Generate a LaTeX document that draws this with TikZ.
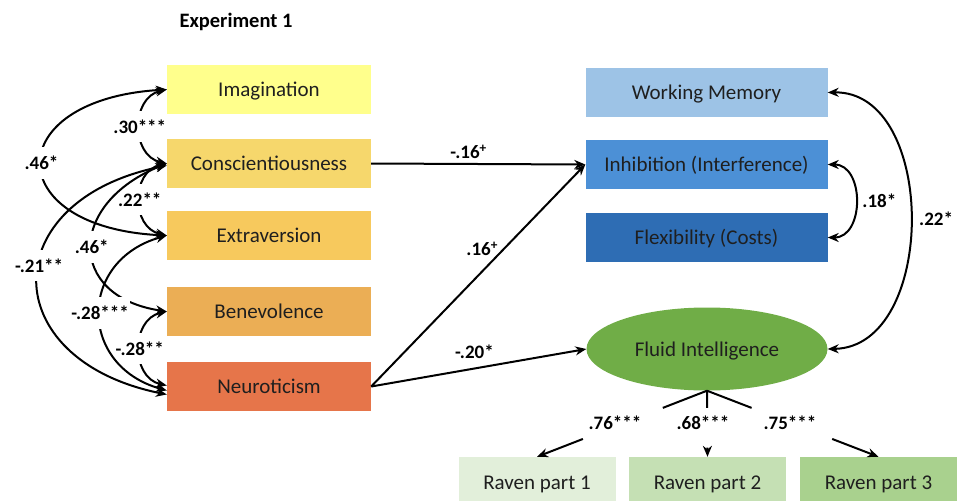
\documentclass[tikz,border=0pt]{standalone}
\usepackage{fontspec}
\setmainfont{Carlito}
\usetikzlibrary{arrows.meta,shapes.geometric,calc}
\definecolor{cImg}{HTML}{FFFF8C}
\definecolor{cCon}{HTML}{F6D76C}
\definecolor{cExt}{HTML}{F7C95D}
\definecolor{cBen}{HTML}{EBAE55}
\definecolor{cNeu}{HTML}{E6754A}
\definecolor{cWM}{HTML}{9DC3E6}
\definecolor{cInh}{HTML}{4C90D6}
\definecolor{cFlx}{HTML}{2E6DB4}
\definecolor{cFl}{HTML}{70AD47}
\definecolor{cRa}{HTML}{E2EFDA}
\definecolor{cRb}{HTML}{C5E0B4}
\definecolor{cRc}{HTML}{A9D18E}
\definecolor{txt}{HTML}{1F1F1F}
\begin{document}
\begin{tikzpicture}[x=1pt,y=-1pt,
  box/.style={rectangle, minimum width=204pt, minimum height=49pt, inner sep=0pt, text=txt, text height=14pt, text depth=0pt, font=\fontsize{21}{24}\selectfont},
  rbox/.style={box, minimum width=242pt},
  rav/.style={box, minimum width=157pt, minimum height=50pt},
  lbl/.style={font=\bfseries\fontsize{19}{22}\selectfont, text=black, inner sep=1pt},
  gap/.style={lbl, fill=white, inner ysep=9pt},
  con/.style={line width=2pt, draw=black},
  tip/.style={-{Stealth[length=11pt,width=9pt]}},
  both/.style={{Stealth[length=11pt,width=9pt]}-{Stealth[length=11pt,width=9pt]}},
]
\useasboundingbox (0,0) rectangle (962,501);
\clip (0,0) rectangle (962,501);

\node[font=\bfseries\fontsize{20.5}{24}\selectfont, text=black] (title) at (236,22) {Experiment 1};

% left boxes
\node[box, fill=cImg] (img) at (269,89.5) {Imagination};
\node[box, fill=cCon] (con) at (269,163.5) {Conscientiousness};
\node[box, fill=cExt] (ext) at (269,235.5) {Extraversion};
\node[box, fill=cBen] (ben) at (269,311.5) {Benevolence};
\node[box, fill=cNeu] (neu) at (269,386.5) {Neuroticism};

% right boxes
\node[rbox, fill=cWM] (wm) at (706.5,92.5) {Working Memory};
\node[rbox, fill=cInh] (inh) at (706.5,164.5) {Inhibition (Interference)};
\node[rbox, fill=cFlx] (flx) at (706.5,237.5) {Flexibility (Costs)};
\node[ellipse, fill=cFl, minimum width=241pt, minimum height=83pt, inner sep=0pt, text=txt, text height=14pt, text depth=0pt, font=\fontsize{21}{24}\selectfont] (fl) at (707,349) {Fluid Intelligence};

% raven boxes
\node[rav, fill=cRa] (r1) at (537,482) {Raven part 1};
\node[rav, fill=cRb] (r2) at (707.5,482) {Raven part 2};
\node[rav, fill=cRc] (r3) at (878.5,482) {Raven part 3};

% short correlations
\draw[con,both] (img.west) .. controls +(-36,8) and +(-36,-8) .. node[gap]{.30***} (con.west);
\draw[con,both] (con.west) .. controls +(-36,8) and +(-36,-8) .. node[gap]{.22**} (ext.west);
\draw[con,both] (ben.west) .. controls +(-36,8) and +(-36,-8) .. node[gap]{-.28**} ([yshift=1pt]neu.west);

% long correlations
\draw[con,both] (img.west) .. controls +(-167,10) and +(-167,-8) .. node[gap]{.46*} (ext.west);
\draw[con,both] ([yshift=-2pt]con.west) .. controls +(-172,35) and +(-172,-35) .. node[gap,pos=0.45]{-.21**} ([yshift=-8pt]neu.west);
\draw[con,both] (con.west) .. controls +(-100,40) and +(-100,-15) .. node[gap]{.46*} (ben.west);
\draw[con,both] (ext.west) .. controls +(-89,25) and +(-89,-25) .. node[gap]{-.28***} ([yshift=-4pt]neu.west);

% paths
\draw[con,tip] (con.east) -- node[lbl, above=3pt, pos=0.455] {-.16\textsuperscript{+}} (inh.west);
\draw[con,tip] (neu.east) -- node[lbl, left=4pt, pos=0.62] {.16\textsuperscript{+}} (inh.west);
\draw[con,tip] (neu.east) -- node[lbl, above=8pt, pos=0.48] {-.20*} (fl.west);

% right correlations
\draw[con,both] (wm.east) .. controls +(110,-2) and +(110,-2) .. node[lbl, right=7pt]{.22*} (fl.east);
\draw[con,both] (inh.east) .. controls +(37,0) and +(37,0) .. node[lbl, right=5pt]{.18*} (flx.east);

% loadings
\coordinate (c1) at ($(fl.south)!0.26!(r1.north)$);
\coordinate (d1) at ($(fl.south)!0.73!(r1.north)$);
\coordinate (c2) at ($(fl.south)!0.26!(r2.north)$);
\coordinate (d2) at ($(fl.south)!0.86!(r2.north)$);
\coordinate (c3) at ($(fl.south)!0.26!(r3.north)$);
\coordinate (d3) at ($(fl.south)!0.73!(r3.north)$);
\draw[con] (fl.south) -- (c1);
\draw[con] (fl.south) -- (c2);
\draw[con] (fl.south) -- (c3);
\draw[con,tip] (d1) -- (r1.north);
\draw[con,tip] (d2) -- (r2.north);
\draw[con,tip] (d3) -- (r3.north);
\node[lbl] (l1) at (615,423) {.76***};
\node[lbl] (l2) at (703,423) {.68***};
\node[lbl] (l3) at (790,423) {.75***};
\end{tikzpicture}
\end{document}
